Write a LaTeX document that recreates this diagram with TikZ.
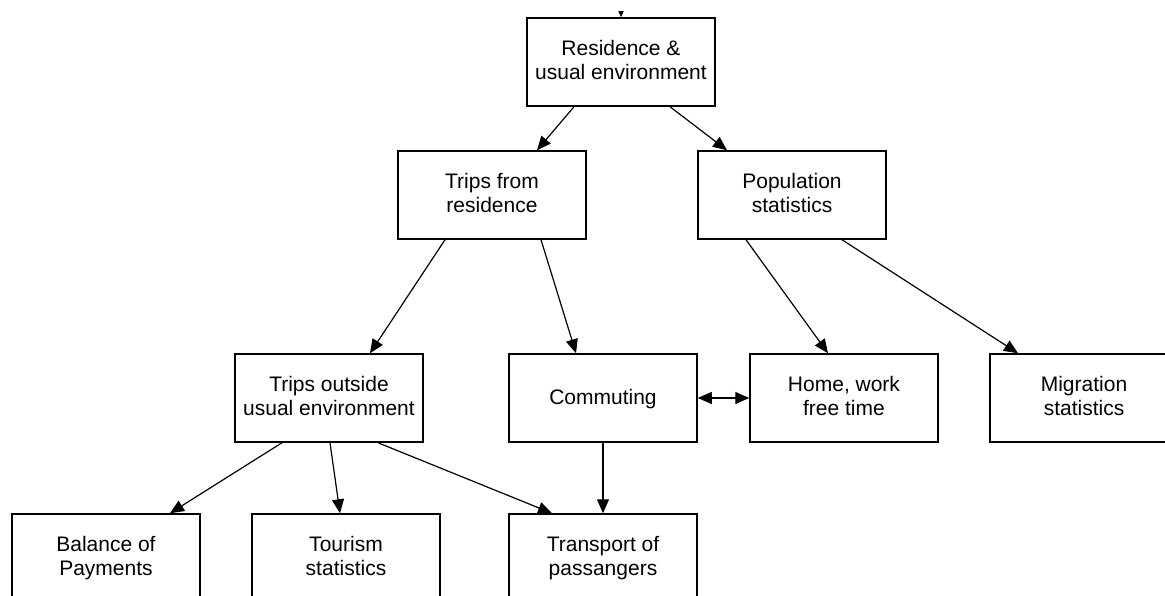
\documentclass[tikz,border=0pt]{standalone}
\usepackage{fontspec}
\setmainfont{Liberation Sans}
\usetikzlibrary{arrows.meta}

\tikzset{
    box/.style={draw, line width=1.5pt, fill=white, minimum width=188pt, minimum height=88pt,
        inner sep=0pt, align=center, font=\fontsize{21}{24}\selectfont,
        execute at begin node=\rule{0pt}{18.8pt}, execute at end node=\rule[-5.2pt]{0pt}{5.2pt}},
    link/.style={line width=1.2pt, -{Triangle[length=14pt,width=12pt]}},
}

\begin{document}
\begin{tikzpicture}[x=1pt, y=-1pt]
            \useasboundingbox (0, 0) rectangle (1165, 596);
            \clip (0, 0) rectangle (1165, 596);
            \fill[white] (0, 0) rectangle (1165, 596);
            % first row
            \node[box] (res) at (621, 62) {Residence \&\\usual environment};
            \coordinate (top) at (621, -10);
            % second row
            \node[box] (trips) at (492, 195) {Trips from\\residence};
            \node[box] (pop) at (792, 195) {Population\\statistics};
            % third row
            \node[box] (outside) at (329, 398) {Trips outside\\usual environment};
            \node[box] (comm) at (603, 398) {Commuting};
            \node[box] (home) at (844, 398) {Home, work\\free time};
            \node[box] (migr) at (1084, 398) {Migration\\statistics};
            % bottom row
            \node[box] (bop) at (106, 558) {Balance of\\Payments};
            \node[box] (tour) at (346, 558) {Tourism\\statistics};
            \node[box] (trans) at (603, 558) {Transport of\\passangers};
            % arrows
            \begin{scope}
                \clip (600, 12) rectangle (640, 30);
                \draw[link] (top) -- (res.north);
            \end{scope}
            \draw[link] ([xshift=-47pt]res.south) -- ([xshift=45pt]trips.north);
            \draw[link] ([xshift=49pt]res.south) -- ([xshift=-65pt]pop.north);
            \draw[link] ([xshift=-47pt]trips.south) -- ([xshift=41pt]outside.north);
            \draw[link] ([xshift=49pt]trips.south) -- ([xshift=-27pt]comm.north);
            \draw[link] ([xshift=-46pt]pop.south) -- ([xshift=-16pt]home.north);
            \draw[link] ([xshift=50pt]pop.south) -- ([xshift=-66pt]migr.north);
            \draw[link, {Triangle[length=14pt,width=12pt]}-{Triangle[length=14pt,width=12pt]}] (comm.east) -- (home.west);
            \draw[link] ([xshift=-47pt]outside.south) -- ([xshift=64pt]bop.north);
            \draw[link] ([xshift=1pt]outside.south) -- ([xshift=-6pt]tour.north);
            \draw[link] ([xshift=49pt]outside.south) -- ([xshift=-51pt]trans.north);
            \draw[link] (comm.south) -- (trans.north);
        \end{tikzpicture}
\end{document}
